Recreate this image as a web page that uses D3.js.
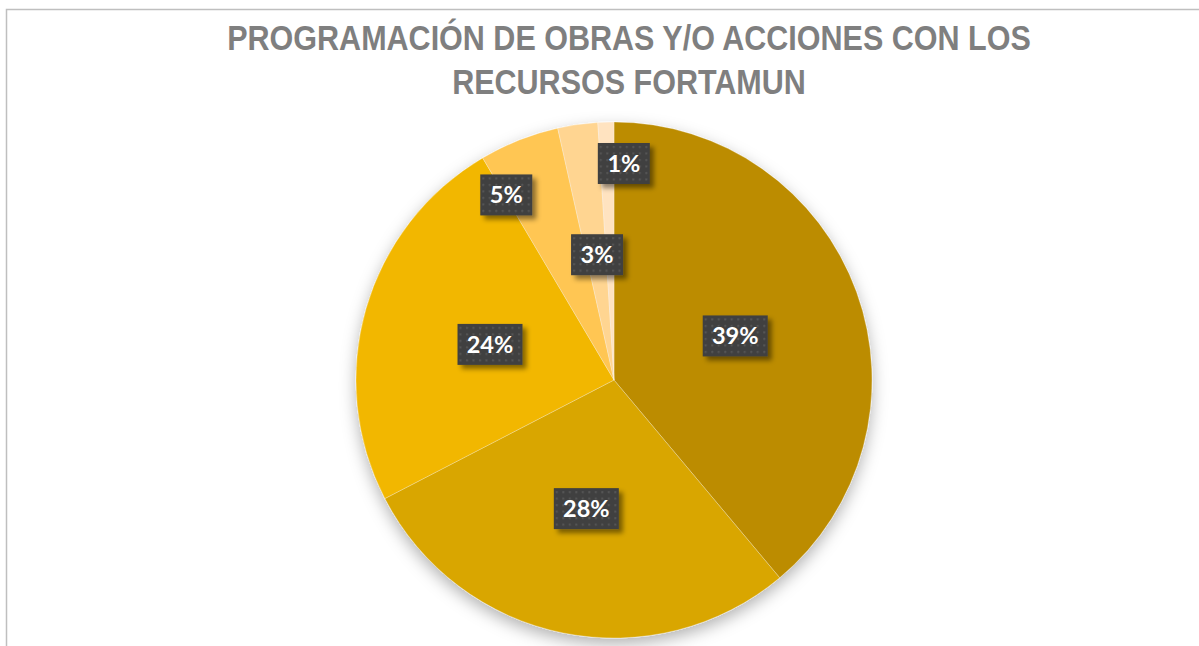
<!DOCTYPE html>
<html>
<head>
<meta charset="utf-8">
<script src="https://cdn.jsdelivr.net/npm/d3@7"></script>
<style>
  body { margin: 0; background: #fff; }
  svg { display: block; }
</style>
</head>
<body>
<svg width="1199" height="646"></svg>
<script>
/* pie chart - programacion fortamun */

// DATA ////////////////////////////////////////////////////////////////////////
const categories = ['A', 'B', 'C', 'D', 'E', 'F'];
const values = [38.9, 28.5, 24.1, 5.0, 2.5, 1.0];
const labels = ['39%', '28%', '24%', '5%', '3%', '1%'];
const colors = ['#BC8C00', '#D9A600', '#F2B700', '#FFC652', '#FFD591', '#FFE3C0'];
const titleLines = ['PROGRAMACIÓN DE OBRAS Y/O ACCIONES CON LOS', 'RECURSOS FORTAMUN'];

// SET PARAMETERS //////////////////////////////////////////////////////////////
const svg = d3.select('svg');
const cx = 614;
const cy = 380;
const radius = 258;

// label placement (ratio of radius, angle nudge in degrees)
const labelRatio = [0.5, 0.51, 0.5, 0.83, 0.49, 0.84];
const labelNudge = [0, 0.8, 0, -8.6, 0.4, 4.4];

const defs = svg.append('defs');

// soft shadow under the pie
const pieShadow = defs.append('filter')
  .attr('id', 'pieShadow')
  .attr('x', '-20%').attr('y', '-20%')
  .attr('width', '140%').attr('height', '140%');
pieShadow.append('feDropShadow')
  .attr('dx', 0).attr('dy', 6)
  .attr('stdDeviation', 8)
  .attr('flood-color', '#000')
  .attr('flood-opacity', 0.3);

// shadow for label boxes
const boxShadow = defs.append('filter')
  .attr('id', 'boxShadow')
  .attr('x', '-30%').attr('y', '-30%')
  .attr('width', '160%').attr('height', '170%');
boxShadow.append('feDropShadow')
  .attr('dx', 4).attr('dy', 4)
  .attr('stdDeviation', 2.5)
  .attr('flood-color', '#000')
  .attr('flood-opacity', 0.45);

// dotted texture for label boxes
const pat = defs.append('pattern')
  .attr('id', 'dots')
  .attr('width', 6.5).attr('height', 6.5)
  .attr('patternUnits', 'userSpaceOnUse');
pat.append('rect').attr('width', 6.5).attr('height', 6.5).attr('fill', '#404040');
pat.append('rect')
  .attr('x', 2).attr('y', 2)
  .attr('width', 2).attr('height', 2)
  .attr('fill', '#565656');

// chart frame
svg.append('rect')
  .attr('x', 6.5).attr('y', 9.5)
  .attr('width', 1300).attr('height', 700)
  .attr('fill', 'none')
  .attr('stroke', '#BFBFBF')
  .attr('stroke-width', 1.5);

// TITLE ///////////////////////////////////////////////////////////////////////
// no narrow font installed, so squeeze the bold sans horizontally
const titleX = 629;
const title = svg.append('text')
  .attr('text-anchor', 'middle')
  .attr('fill', '#7F7F7F')
  .attr('transform', `translate(${titleX},0) scale(0.848,1)`)
  .style('font-family', '"Liberation Sans Narrow", "Liberation Sans", Arial, sans-serif')
  .style('font-weight', 'bold')
  .style('font-size', '36px');
title.selectAll('tspan')
  .data(titleLines)
  .enter()
  .append('tspan')
  .attr('x', 0)
  .attr('y', (d, i) => 50 + i * 44)
  .text(d => d);

// DRAW ////////////////////////////////////////////////////////////////////////
const pie = d3.pie().sort(null).value(d => d.value);
const arc = d3.arc().innerRadius(0).outerRadius(radius);

const data = categories.map((c, i) => ({ cat: c, value: values[i], label: labels[i], color: colors[i] }));
const arcs = pie(data);

const g = svg.append('g').attr('transform', `translate(${cx},${cy})`);

g.append('g')
  .attr('filter', 'url(#pieShadow)')
  .selectAll('path')
  .data(arcs)
  .enter()
  .append('path')
  .attr('d', arc)
  .attr('fill', d => d.data.color)
  .attr('stroke', '#fff')
  .attr('stroke-opacity', 0.35)
  .attr('stroke-width', 0.8);

// data labels
const lbl = g.selectAll('.lbl')
  .data(arcs)
  .enter()
  .append('g')
  .attr('class', 'lbl')
  .attr('transform', (d, i) => {
    const a = (d.startAngle + d.endAngle) / 2 + labelNudge[i] * Math.PI / 180;
    const r = radius * labelRatio[i];
    return `translate(${r * Math.sin(a)},${-r * Math.cos(a)})`;
  });

lbl.each(function(d) {
  const sel = d3.select(this);
  const w = d.data.label.length > 2 ? 65 : 52;
  const h = 41;
  sel.append('rect')
    .attr('x', -w / 2).attr('y', -h / 2)
    .attr('width', w).attr('height', h)
    .attr('fill', 'url(#dots)')
    .attr('filter', 'url(#boxShadow)');
  sel.append('text')
    .attr('text-anchor', 'middle')
    .attr('dy', '0.36em')
    .attr('fill', '#fff')
    .style('font-family', 'Lato, "Open Sans", sans-serif')
    .style('font-weight', 'bold')
    .style('font-size', '23.5px')
    .text(d.data.label);
});
</script>
</body>
</html>
